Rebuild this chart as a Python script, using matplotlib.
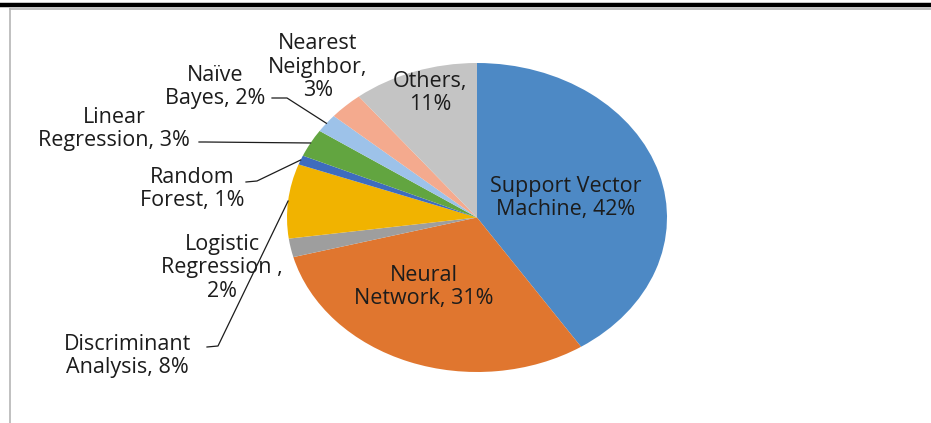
import numpy as np
import matplotlib
matplotlib.use("Agg")
import matplotlib.pyplot as plt

# ── Data ─────────────────────────────────────────────────────────────────────
methods = [
    "Support Vector Machine", "Neural Network", "Logistic Regression",
    "Discriminant Analysis", "Random Forest", "Linear Regression",
    "Naïve Bayes", "Nearest Neighbor", "Others",
]
shares = [42, 31, 2, 8, 1, 3, 2, 3, 11]
colors = [
    "#4D89C5", "#E0762F", "#9E9E9E", "#F1B300", "#3E6CBE",
    "#62A540", "#9DC2E9", "#F4AA8E", "#C4C4C4",
]

plt.rcParams["font.family"] = ["Open Sans", "DejaVu Sans"]
W, H = 931, 423
fig = plt.figure(figsize=(W / 100, H / 100), dpi=100)


def frac(x0, y0, x1, y1):
    """pixel box (top-left origin) -> figure fraction rect"""
    return [x0 / W, 1 - y1 / H, (x1 - x0) / W, (y1 - y0) / H]


# ── Pie (stretched into an ellipse, as in the source) ───────────────────────
ax = fig.add_axes(frac(287, 63, 667, 372))
wedges, _ = ax.pie(shares, colors=colors, startangle=90, counterclock=False,
                   radius=1.0, wedgeprops=dict(linewidth=0))
ax.set_aspect("auto")
ax.set_xlim(-1, 1)
ax.set_ylim(-1, 1)
ax.axis("off")

# overlay in pixel coordinates for frame, labels and leader lines
ov = fig.add_axes([0, 0, 1, 1], zorder=5)
ov.set_xlim(0, W)
ov.set_ylim(H, 0)
ov.axis("off")

ov.plot([0, W], [5, 5], color="black", lw=3.2, solid_capstyle="butt")
ov.plot([10, W], [9.5, 9.5], color="#b5b5b5", lw=1.2)
ov.plot([10, 10], [9.5, H], color="#b5b5b5", lw=1.2)


def edge_point(i, r=1.0):
    w = wedges[i]
    th = np.deg2rad((w.theta1 + w.theta2) / 2)
    disp = ax.transData.transform((r * np.cos(th), r * np.sin(th)))
    return ov.transData.inverted().transform(disp)


txt = dict(fontsize=15.5, color="#1c1c1c", ha="center", va="center",
           linespacing=1.15)

pct = [f"{v}%" for v in shares]

# inside labels
ov.text(566, 198, f"Support Vector\nMachine, {pct[0]}", **txt)
ov.text(424, 287, f"Neural\nNetwork, {pct[1]}", **txt)
ov.text(430, 93, f"Others,\n{pct[8]}", **txt)

# outside labels
ov.text(318, 67, f"Nearest\nNeighbor,\n{pct[7]}", **txt)
ov.text(215, 87, f"Naïve\nBayes, {pct[6]}", **txt)
ov.text(114, 129, f"Linear\nRegression, {pct[5]}", **txt)
ov.text(192, 189, f"Random\nForest, {pct[4]}", **txt)
ov.text(222, 268, f"Logistic\nRegression ,\n{pct[2]}", **txt)
ov.text(127, 356, f"Discriminant\nAnalysis, {pct[3]}", **txt)

# leader lines: label end -> elbow -> slice edge
leaders = [
    (6, (272, 98), (287, 98)),
    (5, (199, 142), (205, 142)),
    (4, (246, 182), (257, 181)),
    (3, (207, 347), (218, 346)),
]
for i, start, elbow in leaders:
    ex, ey = edge_point(i)
    ov.plot([start[0], elbow[0], ex], [start[1], elbow[1], ey],
            color="#1c1c1c", lw=0.9)

fig.savefig("out.png", dpi=100)
